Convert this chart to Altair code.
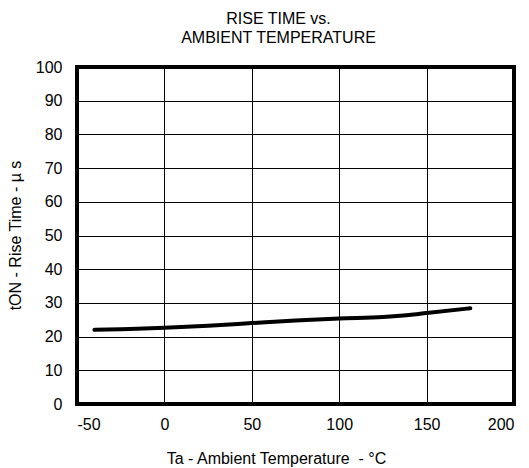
import altair as alt
import pandas as pd

# Rise time (µs) versus ambient temperature (°C)
temperature = [-40, -25, 0, 25, 50, 75, 100, 125, 140, 150, 175]
rise_time = [22.0, 22.2, 22.6, 23.2, 24.0, 24.8, 25.4, 25.8, 26.4, 27.0, 28.4]

x_ticks = [-50, 0, 50, 100, 150, 200]
y_ticks = [0, 10, 20, 30, 40, 50, 60, 70, 80, 90, 100]

df = pd.DataFrame({"temp": temperature, "rise": rise_time})

FONT = "Liberation Sans"

line = alt.Chart(df).mark_line(
    color="black", strokeWidth=4, interpolate="monotone", strokeCap="round"
).encode(
    x=alt.X(
        "temp:Q",
        scale=alt.Scale(domain=[-50, 200], nice=False, zero=False),
        axis=alt.Axis(
            values=x_ticks,
            labelExpr="'' + datum.value",
            title="Ta - Ambient Temperature\u00a0 - °C",
            titleX=199,
            titleY=54,
            titleBaseline="middle",
            titleFontSize=16,
            titleFontWeight="normal",
            labelFontSize=16,
            labelPadding=12,
            tickSize=0,
            domain=False,
            grid=True,
            gridColor="black",
            gridWidth=1,
            gridOpacity=1,
        ),
    ),
    y=alt.Y(
        "rise:Q",
        scale=alt.Scale(domain=[0, 100], nice=False),
        axis=alt.Axis(
            values=y_ticks,
            title="tON - Rise Time - µ\u00a0s",
            titleX=-62,
            titleY=168,
            titleAngle=-90,
            titleAlign="center",
            titleBaseline="middle",
            titleFontSize=16,
            titleFontWeight="normal",
            labelFontSize=16,
            labelPadding=15,
            tickSize=0,
            domain=False,
            grid=True,
            gridColor="black",
            gridWidth=1,
            gridOpacity=1,
        ),
    ),
)

chart = line.properties(
    width=437,
    height=337,
    padding={"left": 77, "top": 67, "right": 15, "bottom": 64},
    autosize=alt.AutoSizeParams(type="none"),
    title=alt.TitleParams(
        text=["RISE TIME vs.", "AMBIENT TEMPERATURE"],
        fontSize=16,
        fontWeight="normal",
        lineHeight=19,
        anchor="middle",
        dx=-17,
        offset=13,
        color="black",
    ),
).configure(
    font=FONT,
    background="white",
).configure_axis(
    labelColor="black",
    titleColor="black",
    labelFont=FONT,
    titleFont=FONT,
).configure_title(
    font=FONT,
).configure_view(
    stroke="black",
    strokeWidth=4,
)

chart.save("out.html", embed_options={"renderer": "svg", "actions": False})
